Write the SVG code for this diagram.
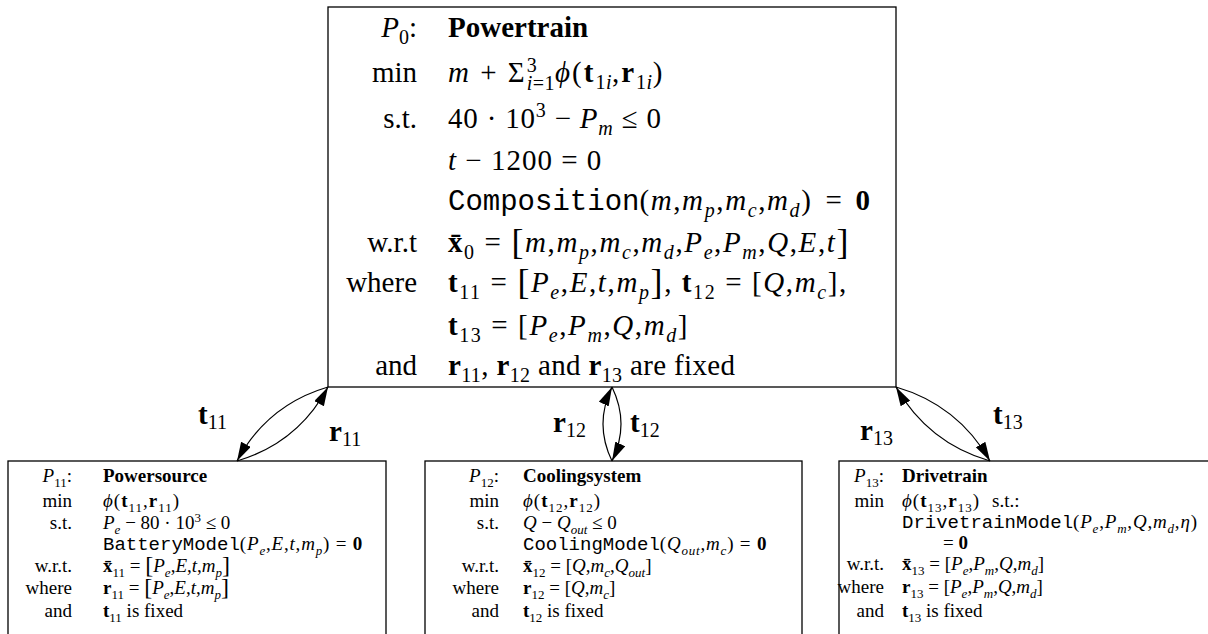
<svg xmlns="http://www.w3.org/2000/svg" width="1208" height="634" viewBox="0 0 1208 634">
<style>
text{font-family:"Liberation Serif","DejaVu Serif",serif;fill:#000}
.big{font-size:29px}
.sm{font-size:19px}
.s{font-size:20px}
.t{font-size:13px}
.i{font-style:italic}
.b{font-weight:bold}
.m{font-family:"Liberation Mono","DejaVu Sans Mono",monospace;font-weight:normal;font-style:normal;letter-spacing:0}
.L{font-size:36px}
.Ls{font-size:24px}
.lab{text-anchor:end}
.x2{letter-spacing:2px}
.x16{letter-spacing:1.6px}
.x1{letter-spacing:1px}
.x08{letter-spacing:0.8px}
.x03{letter-spacing:0.35px}
.box{fill:#fff;stroke:#000;stroke-width:1.3}
.con{fill:none;stroke:#000;stroke-width:1.2;marker-end:url(#ah)}
</style>
<defs>
<marker id="ah" markerUnits="userSpaceOnUse" markerWidth="20" markerHeight="12" refX="19" refY="5.5" orient="auto">
<path d="M0,0 L19,5.5 L0,11 Z" fill="#000"/>
</marker>
</defs>
<rect width="1208" height="634" fill="#fff"/>

<g id="P0">
<rect class="box" x="328" y="7" width="568" height="380"/>
<g class="big">
<text class="lab" x="417" y="37"><tspan class="i">P</tspan><tspan class="s" dy="7">0</tspan><tspan dy="-7">:</tspan></text>
<text class="lab" x="417" y="82">min</text>
<text class="lab" x="417" y="128">s.t.</text>
<text class="lab" x="417" y="252">w.r.t</text>
<text class="lab" x="417" y="292">where</text>
<text class="lab" x="417" y="375">and</text>
<text x="448" y="37"><tspan class="b">Powertrain</tspan></text>
<text class="x2" x="448" y="82"><tspan class="i">m</tspan> + Σ<tspan class="s" dy="-10">3</tspan><tspan class="s" dx="-12" dy="18" style="letter-spacing:0.5px"><tspan class="i">i</tspan>=1</tspan><tspan class="i" dy="-8">ϕ</tspan>(<tspan class="b">t</tspan><tspan class="s" dy="7" style="letter-spacing:0.5px">1<tspan class="i">i</tspan></tspan><tspan dy="-7">,</tspan><tspan class="b">r</tspan><tspan class="s" dy="7" style="letter-spacing:0.5px">1<tspan class="i">i</tspan></tspan><tspan dy="-7">)</tspan></text>
<text class="x08" x="448" y="128">40 · 10<tspan class="s" dy="-11">3</tspan><tspan dy="11"> − </tspan><tspan class="i">P</tspan><tspan class="s i" dy="7">m</tspan><tspan dy="-7"> ≤ 0</tspan></text>
<text class="x1" x="448" y="170"><tspan class="i">t</tspan> − 1200 = 0</text>
<text class="x16" x="448" y="210"><tspan class="m">Composition</tspan>(<tspan class="i">m</tspan>,<tspan class="i">m</tspan><tspan class="s i" dy="7">p</tspan><tspan dy="-7">,</tspan><tspan class="i">m</tspan><tspan class="s i" dy="7">c</tspan><tspan dy="-7">,</tspan><tspan class="i">m</tspan><tspan class="s i" dy="7">d</tspan><tspan dy="-7">)</tspan><tspan dx="13">=</tspan><tspan class="b" dx="12">0</tspan></text>
<text class="x16" x="448" y="252"><tspan class="b">x&#x304;</tspan><tspan class="s" dy="7">0</tspan><tspan dy="-7"> = </tspan><tspan class="L" dy="2">[</tspan><tspan dy="-2" class="i">m</tspan>,<tspan class="i">m</tspan><tspan class="s i" dy="7">p</tspan><tspan dy="-7">,</tspan><tspan class="i">m</tspan><tspan class="s i" dy="7">c</tspan><tspan dy="-7">,</tspan><tspan class="i">m</tspan><tspan class="s i" dy="7">d</tspan><tspan dy="-7">,</tspan><tspan class="i">P</tspan><tspan class="s i" dy="7">e</tspan><tspan dy="-7">,</tspan><tspan class="i">P</tspan><tspan class="s i" dy="7">m</tspan><tspan dy="-7">,</tspan><tspan class="i">Q</tspan>,<tspan class="i">E</tspan>,<tspan class="i">t</tspan><tspan class="L" dy="2">]</tspan></text>
<text class="x16" x="448" y="292"><tspan class="b">t</tspan><tspan class="s" dy="7">11</tspan><tspan dy="-7"> = </tspan><tspan class="L" dy="2">[</tspan><tspan dy="-2" class="i">P</tspan><tspan class="s i" dy="7">e</tspan><tspan dy="-7">,</tspan><tspan class="i">E</tspan>,<tspan class="i">t</tspan>,<tspan class="i">m</tspan><tspan class="s i" dy="7">p</tspan><tspan class="L" dy="-5">]</tspan><tspan dy="-2">, </tspan><tspan class="b">t</tspan><tspan class="s" dy="7">12</tspan><tspan dy="-7"> = [</tspan><tspan class="i">Q</tspan>,<tspan class="i">m</tspan><tspan class="s i" dy="7">c</tspan><tspan dy="-7">],</tspan></text>
<text class="x16" x="448" y="335"><tspan class="b">t</tspan><tspan class="s" dy="7">13</tspan><tspan dy="-7"> = [</tspan><tspan class="i">P</tspan><tspan class="s i" dy="7">e</tspan><tspan dy="-7">,</tspan><tspan class="i">P</tspan><tspan class="s i" dy="7">m</tspan><tspan dy="-7">,</tspan><tspan class="i">Q</tspan>,<tspan class="i">m</tspan><tspan class="s i" dy="7">d</tspan><tspan dy="-7">]</tspan></text>
<text class="x03" x="448" y="375"><tspan class="b">r</tspan><tspan class="s" dy="7">11</tspan><tspan dy="-7">, </tspan><tspan class="b">r</tspan><tspan class="s" dy="7">12</tspan><tspan dy="-7"> and </tspan><tspan class="b">r</tspan><tspan class="s" dy="7">13</tspan><tspan dy="-7"> are fixed</tspan></text>
</g>
</g>

<g id="P11">
<rect class="box" x="8" y="461" width="378" height="185"/>
<g class="sm">
<text class="lab" x="72" y="482"><tspan class="i">P</tspan><tspan class="t" dy="5">11</tspan><tspan dy="-5">:</tspan></text>
<text class="lab" x="72" y="507">min</text>
<text class="lab" x="72" y="529">s.t.</text>
<text class="lab" x="72" y="572">w.r.t.</text>
<text class="lab" x="72" y="594">where</text>
<text class="lab" x="72" y="617">and</text>
<text x="103" y="482"><tspan class="b">Powersource</tspan></text>
<text class="x1" x="103" y="507"><tspan class="i">ϕ</tspan>(<tspan class="b">t</tspan><tspan class="t" dy="5">11</tspan><tspan dy="-5">,</tspan><tspan class="b">r</tspan><tspan class="t" dy="5">11</tspan><tspan dy="-5">)</tspan></text>
<text x="103" y="529"><tspan class="i">P</tspan><tspan class="t i" dy="5">e</tspan><tspan dy="-5"> − 80 · 10</tspan><tspan class="t" dy="-7">3</tspan><tspan dy="7"> ≤ 0</tspan></text>
<text class="x08" x="103" y="550"><tspan class="m">BatteryModel</tspan>(<tspan class="i">P</tspan><tspan class="t i" dy="5">e</tspan><tspan dy="-5">,</tspan><tspan class="i">E</tspan>,<tspan class="i">t</tspan>,<tspan class="i">m</tspan><tspan class="t i" dy="5">p</tspan><tspan dy="-5">) = </tspan><tspan class="b">0</tspan></text>
<text x="103" y="572"><tspan class="b">x&#x304;</tspan><tspan class="t" dy="5">11</tspan><tspan dy="-5"> = </tspan><tspan class="Ls" dy="1">[</tspan><tspan dy="-1" class="i">P</tspan><tspan class="t i" dy="5">e</tspan><tspan dy="-5">,</tspan><tspan class="i">E</tspan>,<tspan class="i">t</tspan>,<tspan class="i">m</tspan><tspan class="t i" dy="5">p</tspan><tspan class="Ls" dy="-4">]</tspan></text>
<text x="103" y="594"><tspan class="b">r</tspan><tspan class="t" dy="5">11</tspan><tspan dy="-5"> = </tspan><tspan class="Ls" dy="1">[</tspan><tspan dy="-1" class="i">P</tspan><tspan class="t i" dy="5">e</tspan><tspan dy="-5">,</tspan><tspan class="i">E</tspan>,<tspan class="i">t</tspan>,<tspan class="i">m</tspan><tspan class="t i" dy="5">p</tspan><tspan class="Ls" dy="-4">]</tspan></text>
<text x="103" y="617"><tspan class="b">t</tspan><tspan class="t" dy="5">11</tspan><tspan dy="-5"> is fixed</tspan></text>
</g>
</g>

<g id="P12">
<rect class="box" x="425" y="461" width="377" height="185"/>
<g class="sm">
<text class="lab" x="499" y="482"><tspan class="i">P</tspan><tspan class="t" dy="5">12</tspan><tspan dy="-5">:</tspan></text>
<text class="lab" x="499" y="507">min</text>
<text class="lab" x="499" y="529">s.t.</text>
<text class="lab" x="499" y="572">w.r.t.</text>
<text class="lab" x="499" y="594">where</text>
<text class="lab" x="499" y="617">and</text>
<text x="523" y="482"><tspan class="b">Coolingsystem</tspan></text>
<text class="x1" x="523" y="507"><tspan class="i">ϕ</tspan>(<tspan class="b">t</tspan><tspan class="t" dy="5">12</tspan><tspan dy="-5">,</tspan><tspan class="b">r</tspan><tspan class="t" dy="5">12</tspan><tspan dy="-5">)</tspan></text>
<text x="523" y="529"><tspan class="i">Q</tspan> − <tspan class="i">Q</tspan><tspan class="t i" dy="5">out</tspan><tspan dy="-5"> ≤ 0</tspan></text>
<text class="x08" x="523" y="550"><tspan class="m">CoolingModel</tspan>(<tspan class="i">Q</tspan><tspan class="t i" dy="5">out</tspan><tspan dy="-5">,</tspan><tspan class="i">m</tspan><tspan class="t i" dy="5">c</tspan><tspan dy="-5">) = </tspan><tspan class="b">0</tspan></text>
<text x="523" y="572"><tspan class="b">x&#x304;</tspan><tspan class="t" dy="5">12</tspan><tspan dy="-5"> = [</tspan><tspan class="i">Q</tspan>,<tspan class="i">m</tspan><tspan class="t i" dy="5">c</tspan><tspan dy="-5">,</tspan><tspan class="i">Q</tspan><tspan class="t i" dy="5">out</tspan><tspan dy="-5">]</tspan></text>
<text x="523" y="594"><tspan class="b">r</tspan><tspan class="t" dy="5">12</tspan><tspan dy="-5"> = [</tspan><tspan class="i">Q</tspan>,<tspan class="i">m</tspan><tspan class="t i" dy="5">c</tspan><tspan dy="-5">]</tspan></text>
<text x="523" y="617"><tspan class="b">t</tspan><tspan class="t" dy="5">12</tspan><tspan dy="-5"> is fixed</tspan></text>
</g>
</g>

<g id="P13">
<rect class="box" x="839" y="461" width="380" height="185"/>
<g class="sm">
<text class="lab" x="884" y="482"><tspan class="i">P</tspan><tspan class="t" dy="5">13</tspan><tspan dy="-5">:</tspan></text>
<text class="lab" x="884" y="507">min</text>
<text class="lab" x="884" y="570">w.r.t.</text>
<text class="lab" x="884" y="593">where</text>
<text class="lab" x="884" y="617">and</text>
<text x="902" y="482"><tspan class="b">Drivetrain</tspan></text>
<text class="x1" x="902" y="507"><tspan class="i">ϕ</tspan>(<tspan class="b">t</tspan><tspan class="t" dy="5">13</tspan><tspan dy="-5">,</tspan><tspan class="b">r</tspan><tspan class="t" dy="5">13</tspan><tspan dy="-5">)</tspan><tspan dx="12" style="letter-spacing:0">s.t.:</tspan></text>
<text class="x08" x="902" y="528"><tspan class="m">DrivetrainModel</tspan>(<tspan class="i">P</tspan><tspan class="t i" dy="5">e</tspan><tspan dy="-5">,</tspan><tspan class="i">P</tspan><tspan class="t i" dy="5">m</tspan><tspan dy="-5">,</tspan><tspan class="i">Q</tspan>,<tspan class="i">m</tspan><tspan class="t i" dy="5">d</tspan><tspan dy="-5">,</tspan><tspan class="i">η</tspan>)</text>
<text x="943" y="549">= <tspan class="b">0</tspan></text>
<text x="902" y="570"><tspan class="b">x&#x304;</tspan><tspan class="t" dy="5">13</tspan><tspan dy="-5"> = [</tspan><tspan class="i">P</tspan><tspan class="t i" dy="5">e</tspan><tspan dy="-5">,</tspan><tspan class="i">P</tspan><tspan class="t i" dy="5">m</tspan><tspan dy="-5">,</tspan><tspan class="i">Q</tspan>,<tspan class="i">m</tspan><tspan class="t i" dy="5">d</tspan><tspan dy="-5">]</tspan></text>
<text x="902" y="593"><tspan class="b">r</tspan><tspan class="t" dy="5">13</tspan><tspan dy="-5"> = [</tspan><tspan class="i">P</tspan><tspan class="t i" dy="5">e</tspan><tspan dy="-5">,</tspan><tspan class="i">P</tspan><tspan class="t i" dy="5">m</tspan><tspan dy="-5">,</tspan><tspan class="i">Q</tspan>,<tspan class="i">m</tspan><tspan class="t i" dy="5">d</tspan><tspan dy="-5">]</tspan></text>
<text x="902" y="617"><tspan class="b">t</tspan><tspan class="t" dy="5">13</tspan><tspan dy="-5"> is fixed</tspan></text>
</g>
</g>

<g id="connectors">
<path class="con" d="M328,387 Q267,405 237,461"/>
<path class="con" d="M237,461 Q298,443 328,387"/>
<path class="con" d="M612,461 Q594,424 612,387"/>
<path class="con" d="M612,387 Q630,424 612,461"/>
<path class="con" d="M896,387 Q958,405 990,461"/>
<path class="con" d="M990,461 Q928,443 896,387"/>
<g class="big">
<text x="198" y="424"><tspan class="b">t</tspan><tspan class="s" dy="5">11</tspan></text>
<text x="329" y="441"><tspan class="b">r</tspan><tspan class="s" dy="5">11</tspan></text>
<text x="553" y="432"><tspan class="b">r</tspan><tspan class="s" dy="5">12</tspan></text>
<text x="630" y="432"><tspan class="b">t</tspan><tspan class="s" dy="5">12</tspan></text>
<text x="860" y="440"><tspan class="b">r</tspan><tspan class="s" dy="5">13</tspan></text>
<text x="993" y="424"><tspan class="b">t</tspan><tspan class="s" dy="5">13</tspan></text>
</g>
</g>
</svg>
